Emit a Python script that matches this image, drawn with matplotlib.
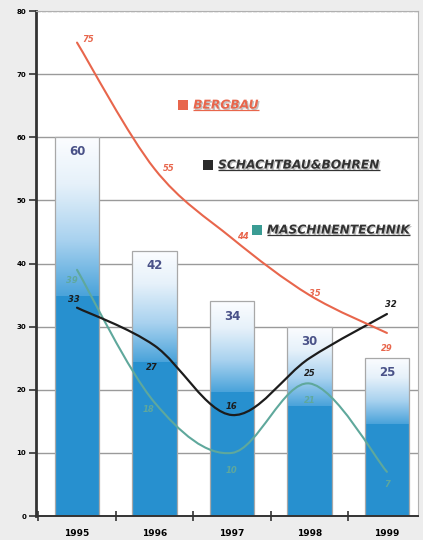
import numpy as np
import matplotlib
matplotlib.use("Agg")
import matplotlib.pyplot as plt
from matplotlib.path import Path
from matplotlib.patches import PathPatch, Rectangle
from matplotlib.colors import LinearSegmentedColormap
import matplotlib.patheffects as pe

# --- data ---------------------------------------------------------------
years = ["1995", "1996", "1997", "1998", "1999"]
total = [60, 42, 34, 30, 25]
bergbau = [75, 55, 44, 35, 29]
schachtbau = [33, 27, 16, 25, 32]
maschinen = [39, 18, 10, 21, 7]
series_names = ["BERGBAU", "SCHACHTBAU&BOHREN", "MASCHINENTECHNIK"]
y_ticks = [0, 10, 20, 30, 40, 50, 60, 70, 80]

# --- style --------------------------------------------------------------
BG = "#ededed"
BAR_BLUE = "#2790cf"
C_BERG = "#e8664c"
C_SCHACHT = "#1c1c1c"
C_MASCH = "#5fa89c"
C_VALUE = "#4a5288"

fig = plt.figure(figsize=(4.23, 5.40), dpi=100, facecolor=BG)
ax = fig.add_axes([0.085, 0.0444, 0.903, 0.9352])
ax.set_facecolor("white")
ax.set_xlim(-0.53, 4.4)
ax.set_ylim(0, 80)

x = np.arange(len(years))

# horizontal grid
for yv in y_ticks[1:]:
    ax.axhline(yv, color="#9a9a9a", lw=1.0, zorder=0.5,
               ls=(0, (3, 1)) if yv == 80 else "-")

# bars with a white-to-blue fade in the upper part
bw = 0.57
solid_frac = 0.58
cmap = LinearSegmentedColormap.from_list(
    "fade", [(0.0, "#fcfdff"), (0.3, "#e6f1fa"), (0.65, "#a9d2ef"),
             (1.0, "#4aa3da")])
grad = np.linspace(0, 1, 256).reshape(-1, 1)
for xi, h in zip(x, total):
    left = xi - bw / 2
    s = h * solid_frac
    ax.add_patch(Rectangle((left, 0), bw, s, facecolor=BAR_BLUE,
                           edgecolor="none", zorder=1))
    im = ax.imshow(grad, cmap=cmap, aspect="auto",
                   extent=(left, left + bw, s, h), zorder=1,
                   interpolation="bilinear")
    clip = Rectangle((left, s), bw, h - s, transform=ax.transData)
    im.set_clip_path(clip)
    ax.add_patch(Rectangle((left, 0), bw, h, facecolor="none",
                           edgecolor="#a8a8a8", lw=0.9, zorder=2))
    ax.text(xi, h - 1.3, str(h), ha="center", va="top", fontsize=8.5,
            fontweight="bold", color=C_VALUE, zorder=6,
            family="DejaVu Sans")
ax.set_xlim(-0.53, 4.4)
ax.set_ylim(0, 80)


def smooth_path(xs, ys, tension=1.0 / 6.0):
    """Catmull-Rom curve through the points, as cubic Bezier segments."""
    pts = np.column_stack([xs, ys]).astype(float)
    n = len(pts)
    verts = [pts[0]]
    codes = [Path.MOVETO]
    for i in range(n - 1):
        p0 = pts[i - 1] if i > 0 else pts[i]
        p1 = pts[i]
        p2 = pts[i + 1]
        p3 = pts[i + 2] if i + 2 < n else pts[i + 1]
        c1 = p1 + (p2 - p0) * tension
        c2 = p2 - (p3 - p1) * tension
        verts += [c1, c2, p2]
        codes += [Path.CURVE4] * 3
    return Path(verts, codes)


lab_kw = dict(fontsize=6, fontweight="bold", fontstyle="italic",
              zorder=7, family="DejaVu Sans")

for vals, col, lw in [(maschinen, C_MASCH, 1.5),
                      (schachtbau, C_SCHACHT, 1.6),
                      (bergbau, C_BERG, 1.5)]:
    ax.add_patch(PathPatch(smooth_path(x, vals), facecolor="none",
                           edgecolor=col, lw=lw, zorder=4,
                           capstyle="round"))

# point labels (offsets in points)
offs_berg = [(8, 2), (10, 0), (8, 1), (4, 1), (0, -11)]
offs_scht = [(-2, 6), (-2, -16), (0, 6), (0, -11), (3, 7)]
offs_masc = [(-4, -8), (-4, -5), (0, -13), (0, -12), (0, -9)]
for vals, offs, col in [(bergbau, offs_berg, C_BERG),
                        (schachtbau, offs_scht, C_SCHACHT),
                        (maschinen, offs_masc, C_MASCH)]:
    for xi, v, (dx, dy) in zip(x, vals, offs):
        ax.annotate(str(v), (xi, v), xytext=(dx, dy),
                    textcoords="offset points", ha="center", va="center",
                    color=col, **lab_kw)

# legend entries placed inside the plot
legend_pos = [(1.37, 65.1), (1.69, 55.6), (2.32, 45.3)]
legend_col = [C_BERG, "#2a2a2a", "#3a9c94"]
legend_txtcol = [C_BERG, "#333333", "#333333"]
fig.canvas.draw()
renderer = fig.canvas.get_renderer()
for name, (lx, ly), sc, tc in zip(series_names, legend_pos, legend_col,
                                  legend_txtcol):
    ax.add_patch(Rectangle((lx - 0.065, ly - 0.8), 0.13, 1.6,
                           facecolor=sc, edgecolor="none", zorder=6))
    t = ax.text(lx + 0.13, ly, name, ha="left", va="center",
                fontsize=8.8, fontweight="bold", fontstyle="italic",
                color=tc, zorder=7, family="DejaVu Sans",
                path_effects=[pe.withSimplePatchShadow(offset=(1, -1),
                                                      shadow_rgbFace="#9a9a9a",
                                                      alpha=0.6)])
    bb = t.get_window_extent(renderer=renderer)
    inv = ax.transData.inverted()
    (x0, y0), (x1, _) = inv.transform([(bb.x0, bb.y0), (bb.x1, bb.y1)])
    ax.plot([x0, x1], [y0 + 0.25, y0 + 0.25], color=tc, lw=0.9, zorder=7,
            solid_capstyle="butt")

# axes, ticks and labels
for side in ["top", "right"]:
    ax.spines[side].set_color("#b0b0b0")
    ax.spines[side].set_linewidth(0.8)
ax.spines["left"].set_color("#333333")
ax.spines["left"].set_linewidth(2.0)
ax.spines["bottom"].set_color("#333333")
ax.spines["bottom"].set_linewidth(1.4)

ax.set_yticks(y_ticks)
ax.set_yticklabels([str(v) for v in y_ticks], fontsize=5, fontweight="bold")
ax.tick_params(axis="y", direction="out", length=5, width=1.2,
               color="#333333", pad=2)
ax.set_xticks(np.arange(-0.5, 4.5, 1.0))
ax.set_xticks(x, minor=True)
ax.set_xticklabels([""] * 5)
ax.set_xticklabels(years, minor=True, fontsize=6.5, fontweight="bold")
ax.tick_params(axis="x", which="major", direction="inout", length=7,
               width=1.2, color="#333333")
ax.tick_params(axis="x", which="minor", length=0, pad=9)

fig.savefig("out.png", dpi=100, facecolor=BG)
